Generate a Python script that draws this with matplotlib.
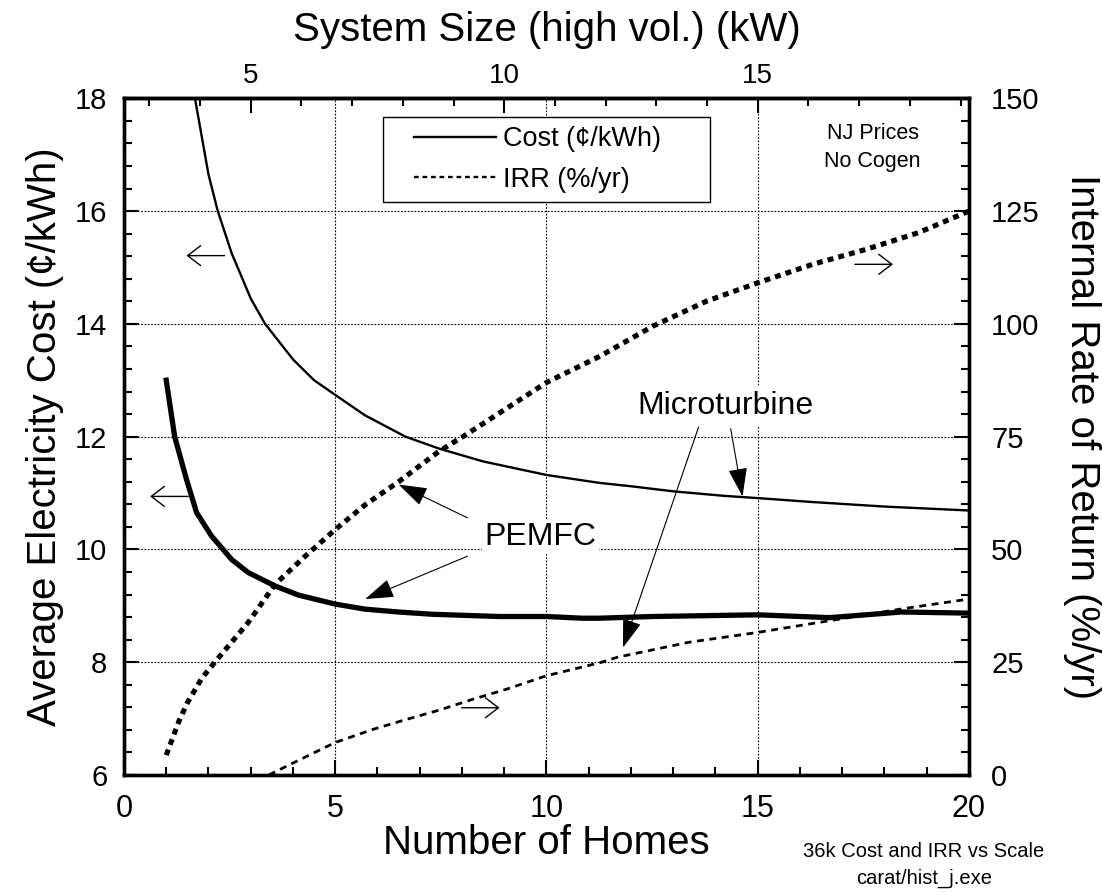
import matplotlib
matplotlib.use('Agg')
import matplotlib.pyplot as plt
from matplotlib.lines import Line2D
from matplotlib.legend_handler import HandlerLine2D
from matplotlib.ticker import MultipleLocator

plt.rcParams['font.family'] = ['Liberation Sans', 'DejaVu Sans']

# ---------------- data ----------------
micro_cost_homes = [1.68, 2.0, 2.22, 2.55, 3.0, 3.34, 4.0, 4.5, 5.0, 5.7, 6.66, 7.45, 8.5,
                    10.0, 11.25, 12.0, 13.0, 14.2, 15.0, 16.3, 18.0, 20.0]
micro_cost = [18.0, 16.65, 16.0, 15.25, 14.45, 14.0, 13.37, 13.0, 12.74, 12.38, 12.0, 11.79,
              11.56, 11.32, 11.18, 11.12, 11.03, 10.95, 10.91, 10.84, 10.76, 10.69]

pem_cost_homes = [1.0, 1.2, 1.48, 1.72, 2.07, 2.55, 2.94, 3.58, 4.13, 5.0, 5.71, 6.5, 7.29,
                  8.88, 10.0, 10.84, 11.25, 12.5, 15.0, 16.7, 18.4, 20.0]
pem_cost = [13.0, 12.0, 11.24, 10.65, 10.24, 9.82, 9.59, 9.35, 9.19, 9.03, 8.94, 8.89, 8.85,
            8.81, 8.81, 8.78, 8.78, 8.81, 8.84, 8.79, 8.89, 8.87]

pem_irr_homes = [1.0, 1.3, 1.5, 1.84, 2.15, 2.94, 3.58, 4.29, 5.0, 5.71, 6.5, 7.45, 8.09,
                 8.88, 10.0, 11.26, 12.52, 13.78, 15.0, 16.3, 17.56, 18.8, 20.0]
pem_irr = [4.4, 11.9, 16.0, 21.4, 25.0, 33.8, 42.3, 48.5, 54.4, 59.9, 65.0, 71.7, 75.4,
           80.2, 87.0, 92.8, 99.5, 105.0, 109.1, 113.2, 116.5, 120.2, 125.0]

micro_irr_homes = [3.43, 3.99, 5.0, 5.89, 6.68, 7.47, 8.26, 9.05, 10.0, 11.27, 11.68, 13.36,
                   15.0, 16.7, 18.4, 20.0]
micro_irr = [0.0, 2.6, 7.2, 10.1, 12.3, 14.4, 16.8, 19.0, 22.0, 24.9, 26.1, 29.4, 31.6,
             34.2, 36.8, 39.0]

kw_ticks = [5, 10, 15]
legend_labels = ['Cost (¢/kWh)', 'IRR (%/yr)']

# ---------------- figure ----------------
fig = plt.figure(figsize=(11.02, 8.92), dpi=100)
ax = fig.add_axes([0.1125, 0.1312, 0.7668, 0.7586])
ax.set_xlim(0, 20)
ax.set_ylim(6, 18)

ax.plot(micro_cost_homes, micro_cost, color='k', lw=1.7, zorder=3)
ax.plot(pem_cost_homes, pem_cost, color='k', lw=3.8, zorder=3)

ax.xaxis.set_major_locator(MultipleLocator(5))
ax.xaxis.set_minor_locator(MultipleLocator(1))
ax.yaxis.set_major_locator(MultipleLocator(2))
ax.yaxis.set_minor_locator(MultipleLocator(0.4))
ax.tick_params(which='both', direction='in', top=False, right=False, width=1.5)
ax.tick_params(which='major', length=11)
ax.tick_params(which='minor', length=6)
ax.tick_params(axis='x', labelsize=22, pad=14)
ax.tick_params(axis='y', labelsize=21, pad=12)
ax.grid(which='major', color='k', lw=0.8, linestyle=(0, (1.5, 1.5)))
for s in ax.spines.values():
    s.set_linewidth(2.4)

ax.set_xlabel('Number of Homes', fontsize=29)
ax.xaxis.set_label_coords(0.5, -0.1)
ax.xaxis.label.set_va('center')
ax.set_ylabel('Average Electricity Cost (¢/kWh)', fontsize=29)
ax.yaxis.set_label_coords(-0.0935, 0.5)
ax.yaxis.label.set_va('center')

# top axis: system size
secax = ax.secondary_xaxis('top', functions=(lambda h: 2.5 + h * 5.0 / 6.0,
                                             lambda k: (k - 2.5) * 1.2))
secax.set_xticks(kw_ticks)
secax.xaxis.set_minor_locator(MultipleLocator(1))
secax.tick_params(which='both', direction='in', width=1.5, labelsize=20, pad=6.6)
secax.tick_params(which='major', length=11)
secax.tick_params(which='minor', length=6)
secax.spines['top'].set_linewidth(2.4)
secax.set_xlabel('System Size (high vol.) (kW)', fontsize=29)
secax.xaxis.set_label_coords(0.5, 1.101, transform=ax.transAxes)
secax.xaxis.label.set_va('center')

# right axis: IRR
ax2 = ax.twinx()
ax2.set_ylim(0, 150)
ax2.plot(pem_irr_homes, pem_irr, color='k', lw=3.7, linestyle=(0, (1.15, 1.0)), zorder=3)
ax2.plot(micro_irr_homes, micro_irr, color='k', lw=2.0, linestyle=(0, (2.5, 2.0)), zorder=3)
ax2.yaxis.set_major_locator(MultipleLocator(25))
ax2.yaxis.set_minor_locator(MultipleLocator(5))
ax2.tick_params(which='both', direction='in', width=1.5, labelsize=21, pad=16)
ax2.tick_params(which='major', length=11)
ax2.tick_params(which='minor', length=6)
for s in ax2.spines.values():
    s.set_linewidth(2.4)
ax2.set_ylabel('Internal Rate of Return (%/yr)', fontsize=29, rotation=-90)
ax2.yaxis.set_label_coords(1.1337, 0.5)
ax2.yaxis.label.set_va('center')

# legend
handles = [Line2D([], [], color='k', lw=1.7),
           Line2D([], [], color='k', lw=1.7, linestyle=(0, (2.0, 1.6)))]
leg = ax2.legend(handles, legend_labels, loc='upper left',
                 bbox_to_anchor=(0.3065, 0.854, 0.387, 0.1184), mode='expand',
                 fontsize=19.5, frameon=True, fancybox=False, edgecolor='k',
                 framealpha=1, borderaxespad=0, borderpad=0.35, handlelength=3.82,
                 handletextpad=0.26, labelspacing=0.53,
                 handler_map={Line2D: HandlerLine2D(xpad=0.79)})
leg.get_frame().set_linewidth(1.0)

# text labels
ax.text(9.86, 10.085, 'PEMFC', fontsize=23, ha='center', va='baseline', zorder=4,
        bbox=dict(facecolor='white', edgecolor='none', pad=2))
ax.text(14.23, 12.41, 'Microturbine', fontsize=23, ha='center', va='baseline', zorder=4,
        bbox=dict(facecolor='white', edgecolor='none', pad=4))
ax.text(17.72, 17.28, 'NJ Prices', fontsize=15.5, ha='center', va='baseline')
ax.text(17.72, 16.78, 'No Cogen', fontsize=15.5, ha='center', va='baseline')

head = dict(arrowstyle='-|>,head_length=0.9,head_width=0.3', color='k', lw=0.8,
            mutation_scale=20, shrinkA=0, shrinkB=0)
ax.annotate('', xy=(6.5, 11.15), xytext=(8.13, 10.56), arrowprops=head, zorder=5)
ax.annotate('', xy=(5.71, 9.12), xytext=(8.13, 9.88), arrowprops=head, zorder=5)
ax.annotate('', xy=(14.64, 10.94), xytext=(14.36, 12.14), arrowprops=head, zorder=5)
ax.annotate('', xy=(11.81, 8.26), xytext=(13.6, 12.17), arrowprops=head, zorder=5)

side = dict(arrowstyle='->,head_length=0.94,head_width=0.72', color='k', lw=1.0,
            mutation_scale=10, shrinkA=0, shrinkB=0)
ax.annotate('', xy=(1.48, 15.21), xytext=(2.38, 15.21), arrowprops=side)
ax.annotate('', xy=(0.62, 10.94), xytext=(1.52, 10.94), arrowprops=side)
ax2.annotate('', xy=(18.2, 113.2), xytext=(17.3, 113.2), arrowprops=side)
ax2.annotate('', xy=(8.89, 14.9), xytext=(7.99, 14.9), arrowprops=side)

fig.text(0.8382, 0.0396, '36k Cost and IRR vs Scale', fontsize=14.5, ha='center', va='baseline')
fig.text(0.8382, 0.0098, 'carat/hist_j.exe', fontsize=14.5, ha='center', va='baseline')

fig.savefig('out.png', dpi=100)
